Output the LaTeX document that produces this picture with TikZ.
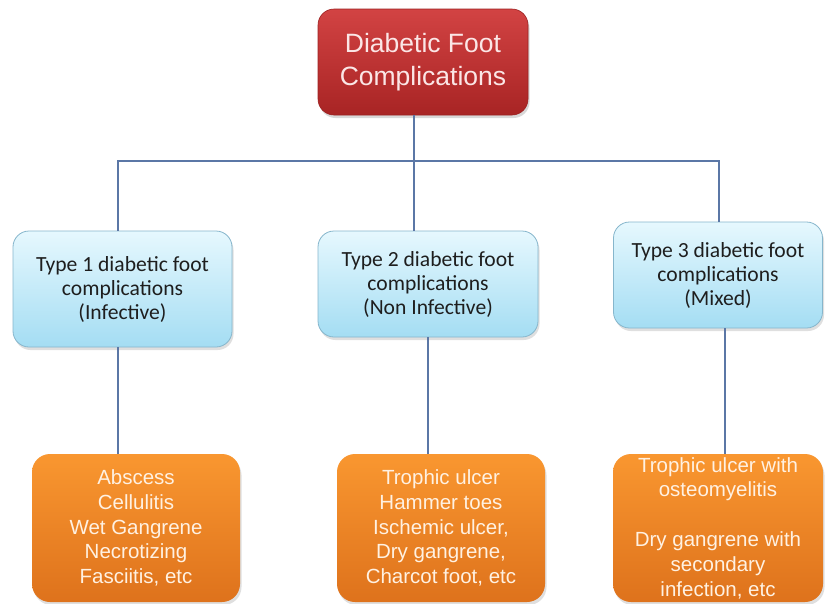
\documentclass[tikz,border=0pt]{standalone}
\usepackage{fontspec}
\setmainfont{Liberation Sans}
\newfontfamily\calfont{Carlito}
\usetikzlibrary{shadows}
\definecolor{redtop}{HTML}{D24343}
\definecolor{redbot}{HTML}{A82424}
\definecolor{redline}{HTML}{9C2222}
\definecolor{redtext}{HTML}{FBE6E6}
\definecolor{bluetop}{HTML}{E6F8FE}
\definecolor{bluebot}{HTML}{A4DDF3}
\definecolor{blueline}{HTML}{86B6CC}
\definecolor{bluetext}{HTML}{1E1E1E}
\definecolor{orgtop}{HTML}{F99730}
\definecolor{orgbot}{HTML}{DE721C}
\definecolor{orgtext}{HTML}{FFF1E2}
\definecolor{conn}{HTML}{5B77A6}
\tikzset{
  rootbox/.style={rounded corners=16pt, top color=redtop, bottom color=redbot, draw=redline, line width=0.6pt,
    text=redtext, align=center, inner sep=0pt, font=\fontsize{26.5}{33}\selectfont,
    drop shadow={opacity=0.3, shadow xshift=1.5pt, shadow yshift=-3pt}},
  typebox/.style={rounded corners=16pt, top color=bluetop, bottom color=bluebot, draw=blueline, line width=0.8pt,
    text=bluetext, align=center, inner sep=0pt, font=\calfont\fontsize{21.6}{24}\selectfont,
    drop shadow={opacity=0.25, shadow xshift=1.5pt, shadow yshift=-3pt}},
  itembox/.style={rounded corners=18pt, top color=orgtop, bottom color=orgbot, draw=none,
    text=orgtext, align=center, inner sep=0pt, font=\fontsize{20.5}{24.8}\selectfont,
    drop shadow={opacity=0.25, shadow xshift=1.5pt, shadow yshift=-3pt}},
  link/.style={draw=conn, line width=1.1pt}
}
\begin{document}
\begin{tikzpicture}[x=1pt,y=-1pt]
\useasboundingbox[fill=white] (0,0) rectangle (825,603);
\node[rootbox, minimum width=210pt, minimum height=106pt] (root) at (423,62) {Diabetic Foot\\Complications};
\node[typebox, minimum width=219pt, minimum height=116pt] (t1) at (122.5,289) {Type 1 diabetic foot\\complications\\(Infective)};
\node[typebox, minimum width=220pt, minimum height=106pt] (t2) at (428,284) {Type 2 diabetic foot\\complications\\(Non Infective)};
\node[typebox, minimum width=209pt, minimum height=106pt] (t3) at (718,275) {Type 3 diabetic foot\\complications\\(Mixed)};
\node[itembox, minimum width=208pt, minimum height=148pt] (o1) at (136,528) {Abscess\\Cellulitis\\Wet Gangrene\\Necrotizing\\Fasciitis, etc};
\node[itembox, minimum width=208pt, minimum height=148pt] (o2) at (441,528) {Trophic ulcer\\Hammer toes\\Ischemic ulcer,\\Dry gangrene,\\Charcot foot, etc};
\node[itembox, minimum width=210pt, minimum height=148pt] (o3) at (718,528) {Trophic ulcer with\\osteomyelitis\\[24.8pt]Dry gangrene with\\secondary\\infection, etc};
\coordinate (bm) at (414,161);
\coordinate (bl) at (118,161);
\coordinate (br) at (719,161);
\draw[link] (root.south -| bm) -- (t2.north -| bm);
\draw[link] (t1.north -| bl) -- (bl) -- (br) -- (t3.north -| br);
\draw[link] (t1.south -| bl) -- (o1.north -| bl);
\draw[link] (t2.south) -- (o2.north -| t2.south);
\draw[link] (t3.south -| 725,0) -- (o3.north -| 725,0);
\end{tikzpicture}
\end{document}
